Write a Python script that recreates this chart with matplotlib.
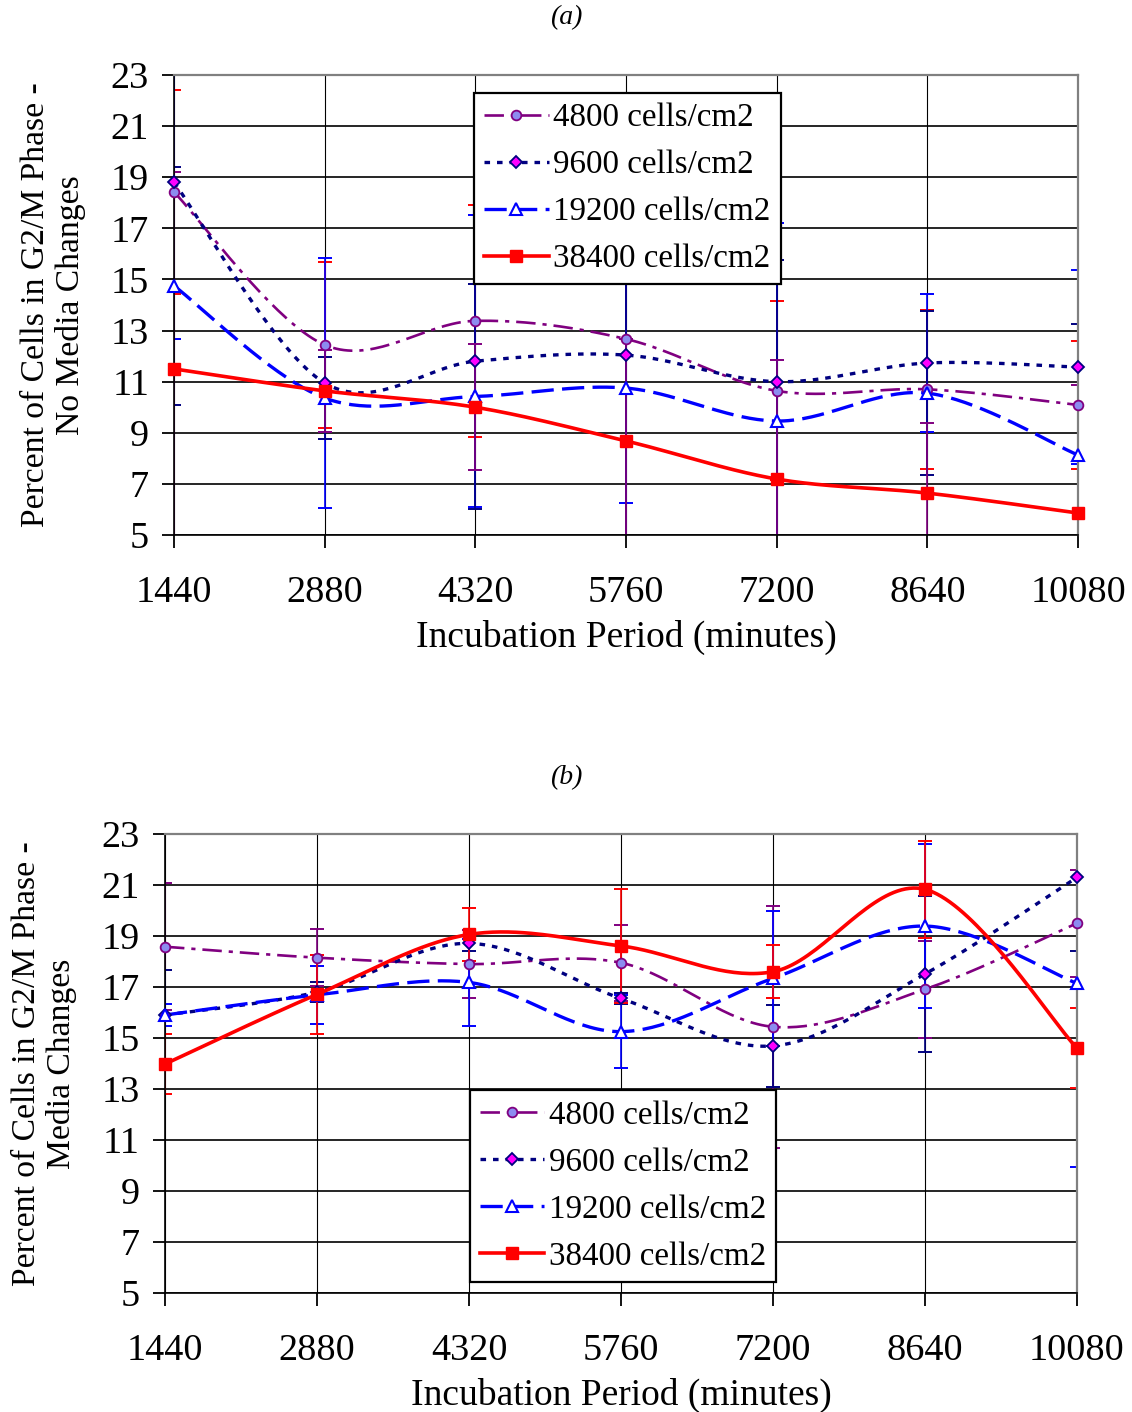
import numpy as np
import matplotlib
matplotlib.use('Agg')
import matplotlib.pyplot as plt
from matplotlib.lines import Line2D

plt.rcParams['font.family'] = ['Liberation Serif', 'DejaVu Serif']
plt.rcParams['lines.scale_dashes'] = False

# ---------------- data ----------------
minutes = [1440, 2880, 4320, 5760, 7200, 8640, 10080]
labels = ['4800 cells/cm2', '9600 cells/cm2', '19200 cells/cm2', '38400 cells/cm2']
yticks = [5, 7, 9, 11, 13, 15, 17, 19, 21, 23]

# panel (a): no media changes
a_4800 = [18.42, 12.44, 13.38, 12.67, 10.64, 10.70, 10.09]
a_9600 = [18.80, 10.95, 11.80, 12.04, 11.00, 11.73, 11.57]
a_19200 = [14.75, 10.36, 10.42, 10.75, 9.46, 10.55, 8.13]
a_38400 = [11.50, 10.64, 10.00, 8.68, 7.19, 6.64, 5.86]
a_err_4800 = [4.00, 3.26, 4.55, 8.00, 3.50, 3.10, 2.50]
a_err_9600 = [6.13, 4.90, 5.72, 5.80, 6.20, 2.70, 3.80]
a_err_19200 = [4.65, 1.60, 4.40, 6.00, 6.30, 3.20, 5.13]
a_err_38400 = [7.72, 1.60, 2.47, 4.00, 4.66, 2.74, 5.00]

# panel (b): media changes
b_4800 = [18.58, 18.15, 17.90, 17.95, 15.44, 16.91, 19.50]
b_9600 = [15.90, 16.80, 18.71, 16.55, 14.69, 17.51, 21.30]
b_19200 = [15.90, 16.69, 17.18, 15.25, 17.34, 19.39, 17.14]
b_38400 = [13.98, 16.71, 19.06, 18.61, 17.60, 20.83, 14.60]
b_err_4800 = [2.49, 1.11, 1.32, 1.50, 4.74, 1.90, 2.10]
b_err_9600 = [1.77, 0.38, 0.30, 0.20, 1.60, 3.05, 2.90]
b_err_19200 = [0.43, 1.14, 1.70, 1.42, 2.65, 3.20, 7.20]
b_err_38400 = [1.18, 1.55, 1.05, 2.22, 1.05, 1.90, 1.57]

# ---------------- styles ----------------
PURPLE = '#800080'
NAVY = '#000080'
BLUE = '#0000FF'
RED = '#FF0000'
styles = [
    dict(color=PURPLE, lw=1.9, dashes=(14, 5, 3, 5), marker='o', ms=7,
         mfc='#8C8CF0', mec=PURPLE, mew=1.3),
    dict(color=NAVY, lw=2.4, dashes=(4, 5), marker='D', ms=6.5,
         mfc='#FF00FF', mec=NAVY, mew=1.3),
    dict(color=BLUE, lw=2.4, dashes=(16, 6), marker='^', ms=8.5,
         mfc='white', mec=BLUE, mew=1.5),
    dict(color=RED, lw=2.6, dashes=None, marker='s', ms=8.5,
         mfc=RED, mec=RED, mew=1.0),
]


def smooth(x, y, n=40):
    """Excel-like smoothed line (Catmull-Rom / Bezier through the points)."""
    P = np.column_stack([np.asarray(x, float), np.asarray(y, float)])
    ext = np.vstack([P[0], P, P[-1]])
    out = []
    t = np.linspace(0, 1, n)
    for i in range(len(P) - 1):
        p0, p1, p2, p3 = ext[i], ext[i + 1], ext[i + 2], ext[i + 3]
        m1 = (p2 - p0) / 2
        m2 = (p3 - p1) / 2
        h00 = 2 * t**3 - 3 * t**2 + 1
        h10 = t**3 - 2 * t**2 + t
        h01 = -2 * t**3 + 3 * t**2
        h11 = t**3 - t**2
        seg = (h00[:, None] * p1 + h10[:, None] * m1 +
               h01[:, None] * p2 + h11[:, None] * m2)
        out.append(seg if i == 0 else seg[1:])
    s = np.vstack(out)
    return s[:, 0], s[:, 1]


def panel(rect, series, errs, err_colors, legend_anchor, ylabel, title, title_y):
    ax = fig.add_axes(rect)
    ax.set_xlim(minutes[0], minutes[-1])
    ax.set_ylim(yticks[0], yticks[-1])
    ax.set_xticks(minutes)
    ax.set_xticklabels([str(m) for m in minutes])
    ax.set_yticks(yticks)
    ax.grid(axis='y', color='black', lw=1.2, zorder=0)
    ax.grid(axis='x', color='black', lw=0.8, zorder=0)
    ax.set_axisbelow(True)
    for side in ['top', 'right']:
        ax.spines[side].set_color('#808080')
        ax.spines[side].set_linewidth(1.6)
    for side in ['left', 'bottom']:
        ax.spines[side].set_color('black')
        ax.spines[side].set_linewidth(1.2)
    ax.tick_params(axis='both', direction='out', length=9, width=1.3,
                   labelsize=27.5, colors='black')
    ax.tick_params(axis='x', pad=20)
    ax.tick_params(axis='y', pad=9)

    # error bars
    for vals, err, ec in zip(series, errs, err_colors):
        ax.errorbar(minutes, vals, yerr=err, fmt='none', ecolor=ec,
                    elinewidth=1.2, capsize=5, capthick=1.4, zorder=2)
    # smoothed lines and markers
    handles = []
    for vals, st, lab in zip(series, styles, labels):
        xs, ys = smooth(minutes, vals)
        kw = dict(color=st['color'], lw=st['lw'])
        if st['dashes'] is not None:
            kw['dashes'] = st['dashes']
        ax.plot(xs, ys, zorder=3, solid_capstyle='butt', dash_capstyle='butt', **kw)
        ax.plot(minutes, vals, ls='none', marker=st['marker'], ms=st['ms'],
                mfc=st['mfc'], mec=st['mec'], mew=st['mew'], zorder=4,
                clip_on=False)
        h = Line2D([], [], marker=st['marker'], ms=st['ms'], mfc=st['mfc'],
                   mec=st['mec'], mew=st['mew'], label=lab, **kw)
        handles.append(h)

    leg = ax.legend(handles=handles, loc='upper left', bbox_to_anchor=legend_anchor,
                    borderaxespad=0, fontsize=23.8, frameon=True, fancybox=False,
                    edgecolor='black', framealpha=1, handlelength=1.95,
                    handletextpad=0.15, labelspacing=0.5, borderpad=0.3)
    leg.get_frame().set_linewidth(1.6)
    leg.set_zorder(6)

    ax.set_xlabel('Incubation Period (minutes)', fontsize=27, labelpad=7)
    ax.set_ylabel(ylabel, fontsize=24.2, labelpad=18, linespacing=1.15)
    fig.text(0.5, title_y, title, ha='center', va='center', fontsize=20,
             style='italic')
    return ax


fig = plt.figure(figsize=(11.32, 14.12), dpi=100)
W, H = 1132, 1412

rect_a = [174 / W, 1 - 535 / H, 904 / W, 460 / H]
rect_b = [165 / W, 1 - 1293 / H, 912 / W, 459 / H]

panel(rect_a, [a_4800, a_9600, a_19200, a_38400],
      [a_err_4800, a_err_9600, a_err_19200, a_err_38400],
      [RED, BLUE, NAVY, PURPLE], (0.332, 0.961),
      'Percent of Cells in G2/M Phase -\nNo Media Changes', '(a)', 1 - 18 / H)

panel(rect_b, [b_4800, b_9600, b_19200, b_38400],
      [b_err_4800, b_err_9600, b_err_19200, b_err_38400],
      [PURPLE, NAVY, BLUE, RED], (0.334, 0.442),
      'Percent of Cells in G2/M Phase -\nMedia Changes', '(b)', 1 - 778 / H)

fig.savefig('out.png', dpi=100)
